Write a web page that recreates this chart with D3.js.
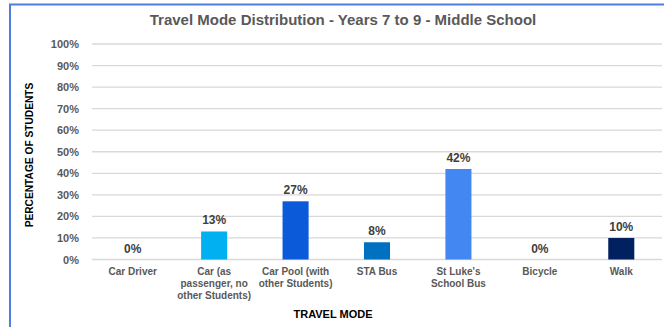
<!DOCTYPE html>
<html>
<head>
<meta charset="utf-8">
<script src="https://cdn.jsdelivr.net/npm/d3@7"></script>
<style>
  body { margin: 0; background: #fff; }
  svg { display: block; font-family: "Liberation Sans", Arial, sans-serif; }
</style>
</head>
<body>
<svg id="chart" width="664" height="327"></svg>
<script>
var categories = [
  ["Car Driver"],
  ["Car (as", "passenger, no", "other Students)"],
  ["Car Pool (with", "other Students)"],
  ["STA Bus"],
  ["St Luke's", "School Bus"],
  ["Bicycle"],
  ["Walk"]
];
var values = [0, 13, 27, 8, 42, 0, 10];
var colors = ["#00b0f0", "#00b0f0", "#0b5ad9", "#0070c0", "#4388f2", "#00b0f0", "#002060"];
var yTicks = [0, 10, 20, 30, 40, 50, 60, 70, 80, 90, 100];

var svg = d3.select("#chart");
var plotLeft = 92, plotRight = 662, plotTop = 44, plotBottom = 259.5;

// frame
svg.append("rect")
  .attr("x", 10).attr("y", 4.5)
  .attr("width", 700).attr("height", 400)
  .attr("fill", "none")
  .attr("stroke", "#4f7fd8")
  .attr("stroke-width", 2);

var idx = categories.map(function (d, i) { return i; });
var x = d3.scaleBand().domain(idx).range([plotLeft, plotRight]).paddingInner(0.68).paddingOuter(0.34);
var y = d3.scaleLinear().domain([0, 100]).range([plotBottom, plotTop]);

// gridlines
svg.append("g")
  .selectAll("line")
  .data(yTicks)
  .enter()
  .append("line")
  .attr("x1", plotLeft).attr("x2", plotRight)
  .attr("y1", function (d) { return y(d); })
  .attr("y2", function (d) { return y(d); })
  .attr("stroke", "#d9d9d9")
  .attr("stroke-width", 1.3);

// y axis labels
var yAxis = svg.append("g")
  .attr("transform", "translate(" + (plotLeft - 10) + ",0)")
  .call(d3.axisLeft(y).tickValues(yTicks).tickSize(0).tickFormat(function (d) { return d + "%"; }));
yAxis.select(".domain").remove();
yAxis.selectAll("text")
  .attr("fill", "#595959")
  .style("font-size", "11px")
  .style("font-weight", "bold")
  .style("font-family", "Liberation Sans, Arial, sans-serif");

// bars
svg.append("g")
  .selectAll("rect")
  .data(values)
  .enter()
  .append("rect")
  .attr("x", function (d, i) { return x(i); })
  .attr("y", function (d) { return y(d); })
  .attr("width", x.bandwidth())
  .attr("height", function (d) { return y(0) - y(d); })
  .attr("fill", function (d, i) { return colors[i]; });

// data labels
svg.append("g")
  .selectAll("text")
  .data(values)
  .enter()
  .append("text")
  .attr("x", function (d, i) { return x(i) + x.bandwidth() / 2; })
  .attr("y", function (d) { return y(d) - 7; })
  .attr("text-anchor", "middle")
  .attr("fill", "#404040")
  .style("font-size", "12px")
  .style("font-weight", "bold")
  .text(function (d) { return d + "%"; });

// category labels
var cat = svg.append("g")
  .selectAll("text")
  .data(categories)
  .enter()
  .append("text")
  .attr("text-anchor", "middle")
  .attr("fill", "#595959")
  .style("font-size", "10px")
  .style("font-weight", "bold");
cat.each(function (lines, i) {
  var t = d3.select(this);
  lines.forEach(function (l, j) {
    t.append("tspan")
      .attr("x", x(i) + x.bandwidth() / 2)
      .attr("y", 275 + j * 12)
      .text(l);
  });
});

// title
svg.append("text")
  .attr("x", 343)
  .attr("y", 25)
  .attr("text-anchor", "middle")
  .attr("fill", "#595959")
  .style("font-size", "15px")
  .style("font-weight", "bold")
  .text("Travel Mode Distribution - Years 7 to 9 - Middle School");

// x title
svg.append("text")
  .attr("x", 333)
  .attr("y", 318)
  .attr("text-anchor", "middle")
  .attr("fill", "#000")
  .style("font-size", "11px")
  .style("font-weight", "bold")
  .text("TRAVEL MODE");

// y title
svg.append("text")
  .attr("text-anchor", "middle")
  .attr("transform", "translate(33,155)rotate(-90)")
  .attr("fill", "#000")
  .style("font-size", "10.2px")
  .style("font-weight", "bold")
  .text("PERCENTAGE OF STUDENTS");
</script>
</body>
</html>
